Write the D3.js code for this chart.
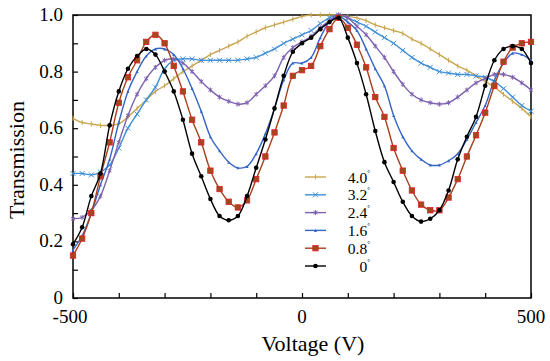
<!DOCTYPE html>
<html>
<head>
<meta charset="utf-8">
<script src="https://cdn.jsdelivr.net/npm/d3@7"></script>
<style>
  body { margin: 0; background: #fff; }
  svg { display: block; }
</style>
</head>
<body>
<div></div>
<script>
const width = 550;
const height = 361;

// voltage grid (V)
const voltage = d3.range(-500, 501, 20);

// transmission per tilt angle
const t40 = [0.635,0.62,0.615,0.61,0.61,0.615,0.64,0.67,0.70,0.73,0.75,0.775,0.80,0.82,0.84,0.86,0.875,0.89,0.905,0.925,0.94,0.955,0.965,0.975,0.985,0.995,1.0,1.0,1.0,1.0,0.995,0.99,0.98,0.965,0.955,0.945,0.935,0.915,0.90,0.88,0.86,0.84,0.82,0.805,0.785,0.765,0.745,0.72,0.695,0.67,0.64];
const t32 = [0.44,0.44,0.435,0.445,0.47,0.53,0.60,0.65,0.70,0.745,0.81,0.84,0.845,0.845,0.84,0.84,0.84,0.84,0.84,0.845,0.85,0.865,0.88,0.90,0.915,0.93,0.945,0.97,0.99,1.0,0.99,0.975,0.96,0.94,0.92,0.90,0.875,0.85,0.83,0.815,0.80,0.795,0.79,0.79,0.785,0.78,0.765,0.74,0.71,0.68,0.66];
const t24 = [0.28,0.285,0.31,0.36,0.45,0.55,0.645,0.72,0.775,0.815,0.84,0.845,0.83,0.80,0.765,0.735,0.71,0.695,0.685,0.69,0.72,0.75,0.785,0.85,0.885,0.905,0.925,0.955,0.98,1.0,0.99,0.96,0.93,0.89,0.85,0.80,0.755,0.72,0.70,0.69,0.685,0.69,0.71,0.735,0.76,0.776,0.79,0.79,0.78,0.76,0.735];
const t16 = [0.17,0.22,0.30,0.40,0.49,0.62,0.73,0.80,0.855,0.88,0.88,0.86,0.81,0.74,0.66,0.57,0.52,0.48,0.46,0.465,0.51,0.58,0.67,0.77,0.83,0.83,0.85,0.92,0.975,0.995,0.975,0.945,0.88,0.81,0.75,0.645,0.57,0.52,0.49,0.47,0.47,0.485,0.51,0.56,0.62,0.68,0.77,0.83,0.865,0.86,0.84];
const t08 = [0.15,0.21,0.30,0.43,0.55,0.69,0.78,0.84,0.905,0.93,0.90,0.82,0.73,0.63,0.55,0.45,0.385,0.34,0.32,0.345,0.42,0.50,0.585,0.68,0.785,0.805,0.82,0.89,0.95,0.99,0.955,0.895,0.815,0.71,0.64,0.53,0.45,0.38,0.33,0.31,0.31,0.355,0.42,0.50,0.575,0.655,0.75,0.835,0.885,0.90,0.905];
const t00 = [0.19,0.25,0.36,0.44,0.61,0.73,0.81,0.855,0.88,0.86,0.80,0.73,0.63,0.51,0.43,0.35,0.29,0.275,0.29,0.36,0.46,0.56,0.67,0.785,0.87,0.90,0.92,0.95,0.975,0.99,0.92,0.83,0.72,0.59,0.48,0.41,0.34,0.29,0.27,0.28,0.31,0.38,0.49,0.57,0.64,0.75,0.84,0.88,0.89,0.88,0.83];

const labels = ['4.0', '3.2', '2.4', '1.6', '0.8', '0'];
const values = [t40, t32, t24, t16, t08, t00];
const colors = ['#caa64e', '#3f8fd6', '#7e62b0', '#3565c4', '#a8401c', '#000000'];
const markers = ['plus', 'cross', 'star', 'tick', 'square', 'circle'];

const xTicks = d3.range(-500, 501, 100);
const yTicks = d3.range(0, 1.01, 0.1);
const xLabels = [-500, 0, 500];
const yLabels = [0, 0.2, 0.4, 0.6, 0.8, 1.0];

const margin = {left: 73, right: 19, top: 15, bottom: 63};
const font = 'Times New Roman, Liberation Serif, DejaVu Serif, serif';

const svg = d3.select('div').append('svg').attr('width', width).attr('height', height)
  .style('font-family', font);

const x = d3.scaleLinear().domain([-500, 500]).range([margin.left, width - margin.right]);
const y = d3.scaleLinear().domain([0, 1]).range([height - margin.bottom, margin.top]);

// axes, ticks inward
svg.append('g')
  .attr('transform', 'translate(0,' + (height - margin.bottom) + ')')
  .call(d3.axisBottom(x).tickValues(xTicks).tickSize(-5).tickFormat(''))
  .call(g => g.select('.domain').remove())
  .selectAll('line').attr('stroke', '#000').attr('stroke-width', 1.2);

svg.append('g')
  .attr('transform', 'translate(' + margin.left + ',0)')
  .call(d3.axisLeft(y).tickValues(yTicks).tickSize(-5).tickFormat(''))
  .call(g => g.select('.domain').remove())
  .selectAll('line').attr('stroke', '#000').attr('stroke-width', 1.2);

svg.append('rect')
  .attr('x', margin.left).attr('y', margin.top)
  .attr('width', width - margin.left - margin.right)
  .attr('height', height - margin.top - margin.bottom)
  .attr('fill', 'none').attr('stroke', '#000').attr('stroke-width', 1.5);

svg.selectAll('.xl').data(xLabels).enter().append('text')
  .attr('x', d => x(d) - (d === -500 ? 3 : 0)).attr('y', height - margin.bottom + 25)
  .attr('text-anchor', 'middle').attr('font-size', 19).style('font-family', font)
  .text(d => d);

svg.selectAll('.yl').data(yLabels).enter().append('text')
  .attr('x', margin.left - 10).attr('y', d => y(d) + 6)
  .attr('text-anchor', 'end').attr('font-size', 19).style('font-family', font)
  .text(d => d === 0 ? '0' : d.toFixed(1));

svg.append('text')
  .attr('x', 313).attr('y', 351)
  .attr('text-anchor', 'middle').attr('font-size', 22).style('font-family', font)
  .text('Voltage (V)');

svg.append('text')
  .attr('transform', 'translate(24,160) rotate(-90)')
  .attr('text-anchor', 'middle').attr('font-size', 22).style('font-family', font)
  .text('Transmission');

const line = d3.line().x((d, i) => x(voltage[i])).y(d => y(d)).curve(d3.curveCatmullRom);

function drawMarker(g, type, color, px, py) {
  if (type === 'circle') {
    g.append('circle').attr('cx', px).attr('cy', py).attr('r', 2.3).attr('fill', color);
  } else if (type === 'square') {
    g.append('rect').attr('x', px - 2.7).attr('y', py - 2.7).attr('width', 5.4).attr('height', 5.4)
      .attr('fill', '#a04a1c').attr('stroke', '#e0202a').attr('stroke-width', 0.8);
  } else if (type === 'cross') {
    g.append('path').attr('d', `M${px-2.5},${py-2.5}L${px+2.5},${py+2.5}M${px-2.5},${py+2.5}L${px+2.5},${py-2.5}`)
      .attr('stroke', color).attr('stroke-width', 1);
  } else if (type === 'plus') {
    g.append('path').attr('d', `M${px},${py-2.5}L${px},${py+2.5}`)
      .attr('stroke', color).attr('stroke-width', 1);
  } else if (type === 'star') {
    g.append('path').attr('d', `M${px},${py-2.5}L${px},${py+2.5}M${px-2},${py-1.5}L${px+2},${py+1.5}M${px-2},${py+1.5}L${px+2},${py-1.5}`)
      .attr('stroke', color).attr('stroke-width', 1);
  } else if (type === 'tick') {
    g.append('path').attr('d', `M${px-1.5},${py+1.5}L${px},${py-1.5}L${px+1.5},${py+1.5}Z`)
      .attr('fill', color);
  }
}

const plot = svg.append('g');
values.forEach((vals, k) => {
  const g = plot.append('g');
  g.append('path').datum(vals).attr('d', line)
    .attr('fill', 'none').attr('stroke', colors[k]).attr('stroke-width', 1.4);
  vals.forEach((v, i) => drawMarker(g, markers[k], colors[k], x(voltage[i]), y(v)));
});

// legend
const legend = svg.append('g');
labels.forEach((lab, k) => {
  const ly = 177 + k * 17.8;
  const g = legend.append('g');
  g.append('line').attr('x1', 305).attr('x2', 326).attr('y1', ly).attr('y2', ly)
    .attr('stroke', colors[k]).attr('stroke-width', 1.4);
  drawMarker(g, markers[k], colors[k], 315.5, ly);
  const t = g.append('text').attr('x', 370).attr('y', ly + 5.5)
    .attr('text-anchor', 'end').attr('font-size', 15.5).style('font-family', font);
  t.append('tspan').text(lab);
  t.append('tspan').attr('font-size', 7).attr('dy', -8).text('°');
});
</script>
</body>
</html>
